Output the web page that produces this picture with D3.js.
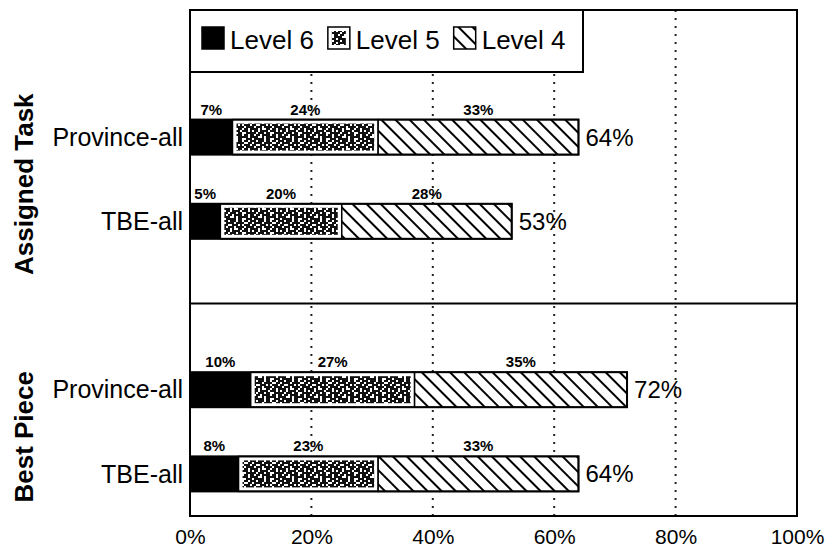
<!DOCTYPE html>
<html>
<head>
<meta charset="utf-8">
<script src="https://cdn.jsdelivr.net/npm/d3@7"></script>
<style>
  body { margin: 0; background: #fff; }
  svg { display: block; font-family: "Liberation Sans", Arial, Helvetica, sans-serif; }
</style>
</head>
<body>
<svg width="829" height="547"></svg>
<script>
// values (percent of students)
const groups = ["Assigned Task", "Best Piece"];
const categories = ["Province-all", "TBE-all"];
const levels = ["Level 6", "Level 5", "Level 4"];
const level6 = [7, 5, 10, 8];
const level5 = [24, 20, 27, 23];
const level4 = [33, 28, 35, 33];
const totals = [64, 53, 72, 64];
const xTicks = [0, 20, 40, 60, 80, 100];
const gridTicks = [20, 40, 60, 80];

const svg = d3.select("svg");
const plotLeft = 190, plotRight = 797, plotTop = 10, plotBottom = 516;

// one row per group/category, plus an empty slot between the two groups
const rows = [];
groups.forEach((g, gi) => {
  categories.forEach((c, ci) => {
    const i = gi * categories.length + ci;
    rows.push({ key: g + "|" + c, group: g, cat: c, vals: [level6[i], level5[i], level4[i]], total: totals[i] });
  });
});
const yDomain = [rows[0].key, rows[1].key, "gap", rows[2].key, rows[3].key];

const x = d3.scaleLinear().domain([0, 100]).range([plotLeft, plotRight]);
const y = d3.scaleBand().domain(yDomain).range([95, plotBottom]).paddingInner(0.584).paddingOuter(0.292);

// patterns
const defs = svg.append("defs");
const hatch = defs.append("pattern")
  .attr("id", "hatch")
  .attr("patternUnits", "userSpaceOnUse")
  .attr("width", 10).attr("height", 10)
  .attr("patternTransform", "rotate(-45)");
hatch.append("rect").attr("width", 10).attr("height", 10).attr("fill", "#fff");
hatch.append("line").attr("x1", 5).attr("x2", 5).attr("y1", 0).attr("y2", 10)
  .attr("stroke", "#000").attr("stroke-width", 2);

// blotchy texture for level 5
const tile = [
  "##.###.##.##.#",
  ".####.####..##",
  "##..###.#.###.",
  "#.###.####.###",
  "###.#..##.##.#",
  ".##.####.###.#",
  "##.###.##..###",
  "#.##.####.##.#",
  "###..#.#####.#",
  ".#####.##..###"
];
const cell = 2;
const blot = defs.append("pattern")
  .attr("id", "blot")
  .attr("patternUnits", "userSpaceOnUse")
  .attr("width", tile[0].length * cell).attr("height", tile.length * cell);
blot.append("rect").attr("width", tile[0].length * cell).attr("height", tile.length * cell).attr("fill", "#fff");
tile.forEach((row, r) => {
  row.split("").forEach((ch, c) => {
    if (ch === "#") {
      blot.append("rect").attr("x", c * cell).attr("y", r * cell)
        .attr("width", cell).attr("height", cell).attr("fill", "#111");
    }
  });
});

// gridlines (dotted)
svg.append("g").selectAll("line")
  .data(gridTicks)
  .enter().append("line")
  .attr("x1", d => x(d)).attr("x2", d => x(d))
  .attr("y1", plotTop).attr("y2", plotBottom)
  .attr("stroke", "#222").attr("stroke-width", 2)
  .attr("stroke-dasharray", "2,6");

// divider between the two groups
const divY = y("gap") + y.bandwidth() / 2 - 2;
svg.append("line")
  .attr("x1", plotLeft).attr("x2", plotRight)
  .attr("y1", divY).attr("y2", divY)
  .attr("stroke", "#000").attr("stroke-width", 2);

// bars
const bar = svg.append("g").selectAll("g")
  .data(rows)
  .enter().append("g");

bar.each(function (d) {
  const g = d3.select(this);
  const y0 = y(d.key), h = y.bandwidth();
  let acc = 0;
  d.vals.forEach((v, li) => {
    const x0 = x(acc), x1 = x(acc + v);
    if (li === 0) {
      g.append("rect").attr("x", x0).attr("y", y0).attr("width", x1 - x0).attr("height", h).attr("fill", "#000");
    } else if (li === 1) {
      g.append("rect").attr("x", x0).attr("y", y0).attr("width", x1 - x0).attr("height", h)
        .attr("fill", "#fff").attr("stroke", "#000").attr("stroke-width", 1.5);
      g.append("rect").attr("x", x0 + 4).attr("y", y0 + 4).attr("width", x1 - x0 - 8).attr("height", h - 8)
        .attr("fill", "url(#blot)");
    } else {
      g.append("rect").attr("x", x0).attr("y", y0).attr("width", x1 - x0).attr("height", h)
        .attr("fill", "url(#hatch)").attr("stroke", "#000").attr("stroke-width", 1.5);
    }
    // segment value above the bar
    g.append("text")
      .attr("x", (x0 + x1) / 2)
      .attr("y", y0 - 5)
      .attr("text-anchor", "middle")
      .attr("font-size", 15).attr("font-weight", "bold")
      .text(v + "%");
    acc += v;
  });
  // outline of the whole bar
  g.append("rect").attr("x", x(0)).attr("y", y0).attr("width", x(acc) - x(0)).attr("height", h)
    .attr("fill", "none").attr("stroke", "#000").attr("stroke-width", 2);
  // total
  g.append("text")
    .attr("x", x(d.total) + 7)
    .attr("y", y0 + h / 2)
    .attr("dy", "0.35em")
    .attr("font-size", 24)
    .text(d.total + "%");
  // category label
  g.append("text")
    .attr("x", plotLeft - 7)
    .attr("y", y0 + h / 2)
    .attr("dy", "0.35em")
    .attr("text-anchor", "end")
    .attr("font-size", 25)
    .text(d.cat);
});

// group labels
svg.append("g").selectAll("text")
  .data(groups)
  .enter().append("text")
  .attr("transform", g => {
    const ys = rows.filter(r => r.group === g).map(r => y(r.key) + y.bandwidth() / 2);
    return "translate(33," + (d3.mean(ys) + 5) + ") rotate(-90)";
  })
  .attr("text-anchor", "middle")
  .attr("font-size", 26).attr("font-weight", "bold")
  .text(d => d);

// frame
svg.append("rect")
  .attr("x", plotLeft).attr("y", plotTop).attr("width", plotRight - plotLeft).attr("height", plotBottom - plotTop)
  .attr("fill", "none").attr("stroke", "#000").attr("stroke-width", 2);

// x axis
const axis = svg.append("g")
  .attr("transform", "translate(0," + plotBottom + ")")
  .call(d3.axisBottom(x).tickValues(xTicks).tickFormat(d => d + "%").tickSize(0).tickPadding(13));
axis.select(".domain").remove();
axis.selectAll("text").attr("font-size", 21).attr("font-family", "'Liberation Sans', Arial, sans-serif").attr("fill", "#000");

// legend
const legend = svg.append("g");
legend.append("rect")
  .attr("x", plotLeft).attr("y", plotTop).attr("width", 393).attr("height", 62)
  .attr("fill", "#fff").attr("stroke", "#000").attr("stroke-width", 2);
let lx = 202;
const fills = ["#000", "url(#blot)", "url(#hatch)"];
levels.forEach((name, i) => {
  const item = legend.append("g");
  if (i === 1) {
    item.append("rect").attr("x", lx).attr("y", 27).attr("width", 22).attr("height", 22)
      .attr("fill", "#fff").attr("stroke", "#000").attr("stroke-width", 1.5);
    item.append("rect").attr("x", lx + 4).attr("y", 31).attr("width", 14).attr("height", 14).attr("fill", fills[i]);
  } else {
    item.append("rect").attr("x", lx).attr("y", 27).attr("width", 22).attr("height", 22)
      .attr("fill", fills[i]).attr("stroke", "#000").attr("stroke-width", 1.5);
  }
  const t = item.append("text")
    .attr("x", lx + 28).attr("y", 49)
    .attr("font-size", 26)
    .text(name);
  lx += 28 + t.node().getComputedTextLength() + 14;
});
</script>
</body>
</html>
